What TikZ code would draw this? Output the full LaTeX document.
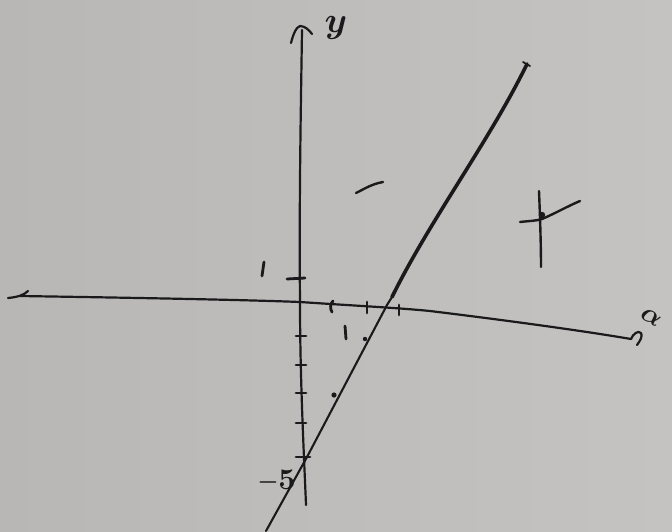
\documentclass[tikz,border=0pt]{standalone}
\usepackage{bm}
\usetikzlibrary{calc}
\definecolor{paperL}{HTML}{B9B7B5}
\definecolor{paperR}{HTML}{C5C3C1}
\definecolor{ink}{HTML}{1A1A1C}
\tikzset{
  axisline/.style={draw=ink, line width=2.2pt, line cap=round, line join=round},
  pen/.style={draw=ink, line width=2.4pt, line cap=round, line join=round},
  tickmark/.style={draw=ink, line width=2.8pt, line cap=round},
  graphline/.style={draw=ink, line width=2.1pt, line cap=round, line join=round},
  graphthick/.style={draw=ink, line width=3.6pt, line cap=round, line join=round},
  lbl/.style={text=ink, inner sep=0pt, transform shape}
}
\begin{document}
\begin{tikzpicture}[x=1pt,y=-1pt]
\useasboundingbox (0,0) rectangle (672,531);
\shade[left color=paperL, right color=paperR] (0,0) rectangle (672,531);

% axis coordinates
\coordinate (xl) at (20,296);
\coordinate (o) at (300,302);
\coordinate (xm) at (430,311);
\coordinate (xr) at (631,339);
\coordinate (yt) at (302,30);
\coordinate (yb) at (306,505);

% x axis
\draw[axisline] (xl) .. controls (150,298) and (250,300) .. (o) .. controls (360,306) and (400,308) .. (xm) .. controls (520,322) and (590,332) .. (xr);
\draw[axisline] (8,298) .. controls (18,297) and (24,295) .. (28,291);
\draw[axisline] (xr) .. controls (633,334) and (638,330) .. (641,333) .. controls (643,336) and (640,341) .. (637,345);
\node[lbl, scale=2.7, rotate=-30] (xlab) at (651,317) {$\bm{\alpha}$};

% y axis
\draw[axisline] (yb) .. controls (304,455) and (300,380) .. (o) .. controls (299,200) and (301,100) .. (yt);
\draw[axisline] (291,43) .. controls (293,35) and (296,27) .. (300,26) .. controls (305,26) and (309,30) .. (312,34);
\node[lbl, scale=3.6] (ylab) at (336,28) {$\bm{y}$};

% y ticks
\draw[tickmark] (287,279) -- (305,278);
\draw[tickmark] (264,262) -- (262,276);
\foreach \yy in {336,365,393,423} { \draw[tickmark] (296,\yy) -- (306,\yy); }
\draw[tickmark] (296,457) -- (310,457);
\node[lbl, scale=2.4] (minus) at (268,482) {$\bm{-}$};
\node[lbl, scale=3] (five) at (287,480) {$\bm{5}$};

% x ticks
\draw[tickmark] (333,301) .. controls (330,304) and (330,309) .. (332,312);
\draw[tickmark] (367,302) -- (367,313);
\draw[tickmark] (399,305) -- (399,315);
\draw[tickmark] (345,326) -- (346,339);
\fill[ink] (365,339) circle (2.2);

% graph line
\coordinate (lb) at (266,531);
\coordinate (lm) at (387,305);
\coordinate (lt) at (527,64);
\draw[graphline] (lb) -- (307,457) -- (lm) -- (392,297);
\draw[graphthick] (392,297) .. controls (430,220) and (490,140) .. (lt);
\draw[line width=1.8pt, draw=ink, line cap=round] (523,62) -- (530,66);
\fill[ink] (334,395) circle (2.6);

% stray dash
\draw[pen] (356,193) .. controls (366,188) and (372,184) .. (383,182);

% cross mark
\draw[pen] (539,191) .. controls (540,215) and (541,245) .. (541,267);
\draw[pen] (520,222) .. controls (528,221) and (536,221) .. (542,219) .. controls (556,213) and (568,206) .. (580,201);
\fill[ink] (542,215) circle (3.2);
\end{tikzpicture}
\end{document}
